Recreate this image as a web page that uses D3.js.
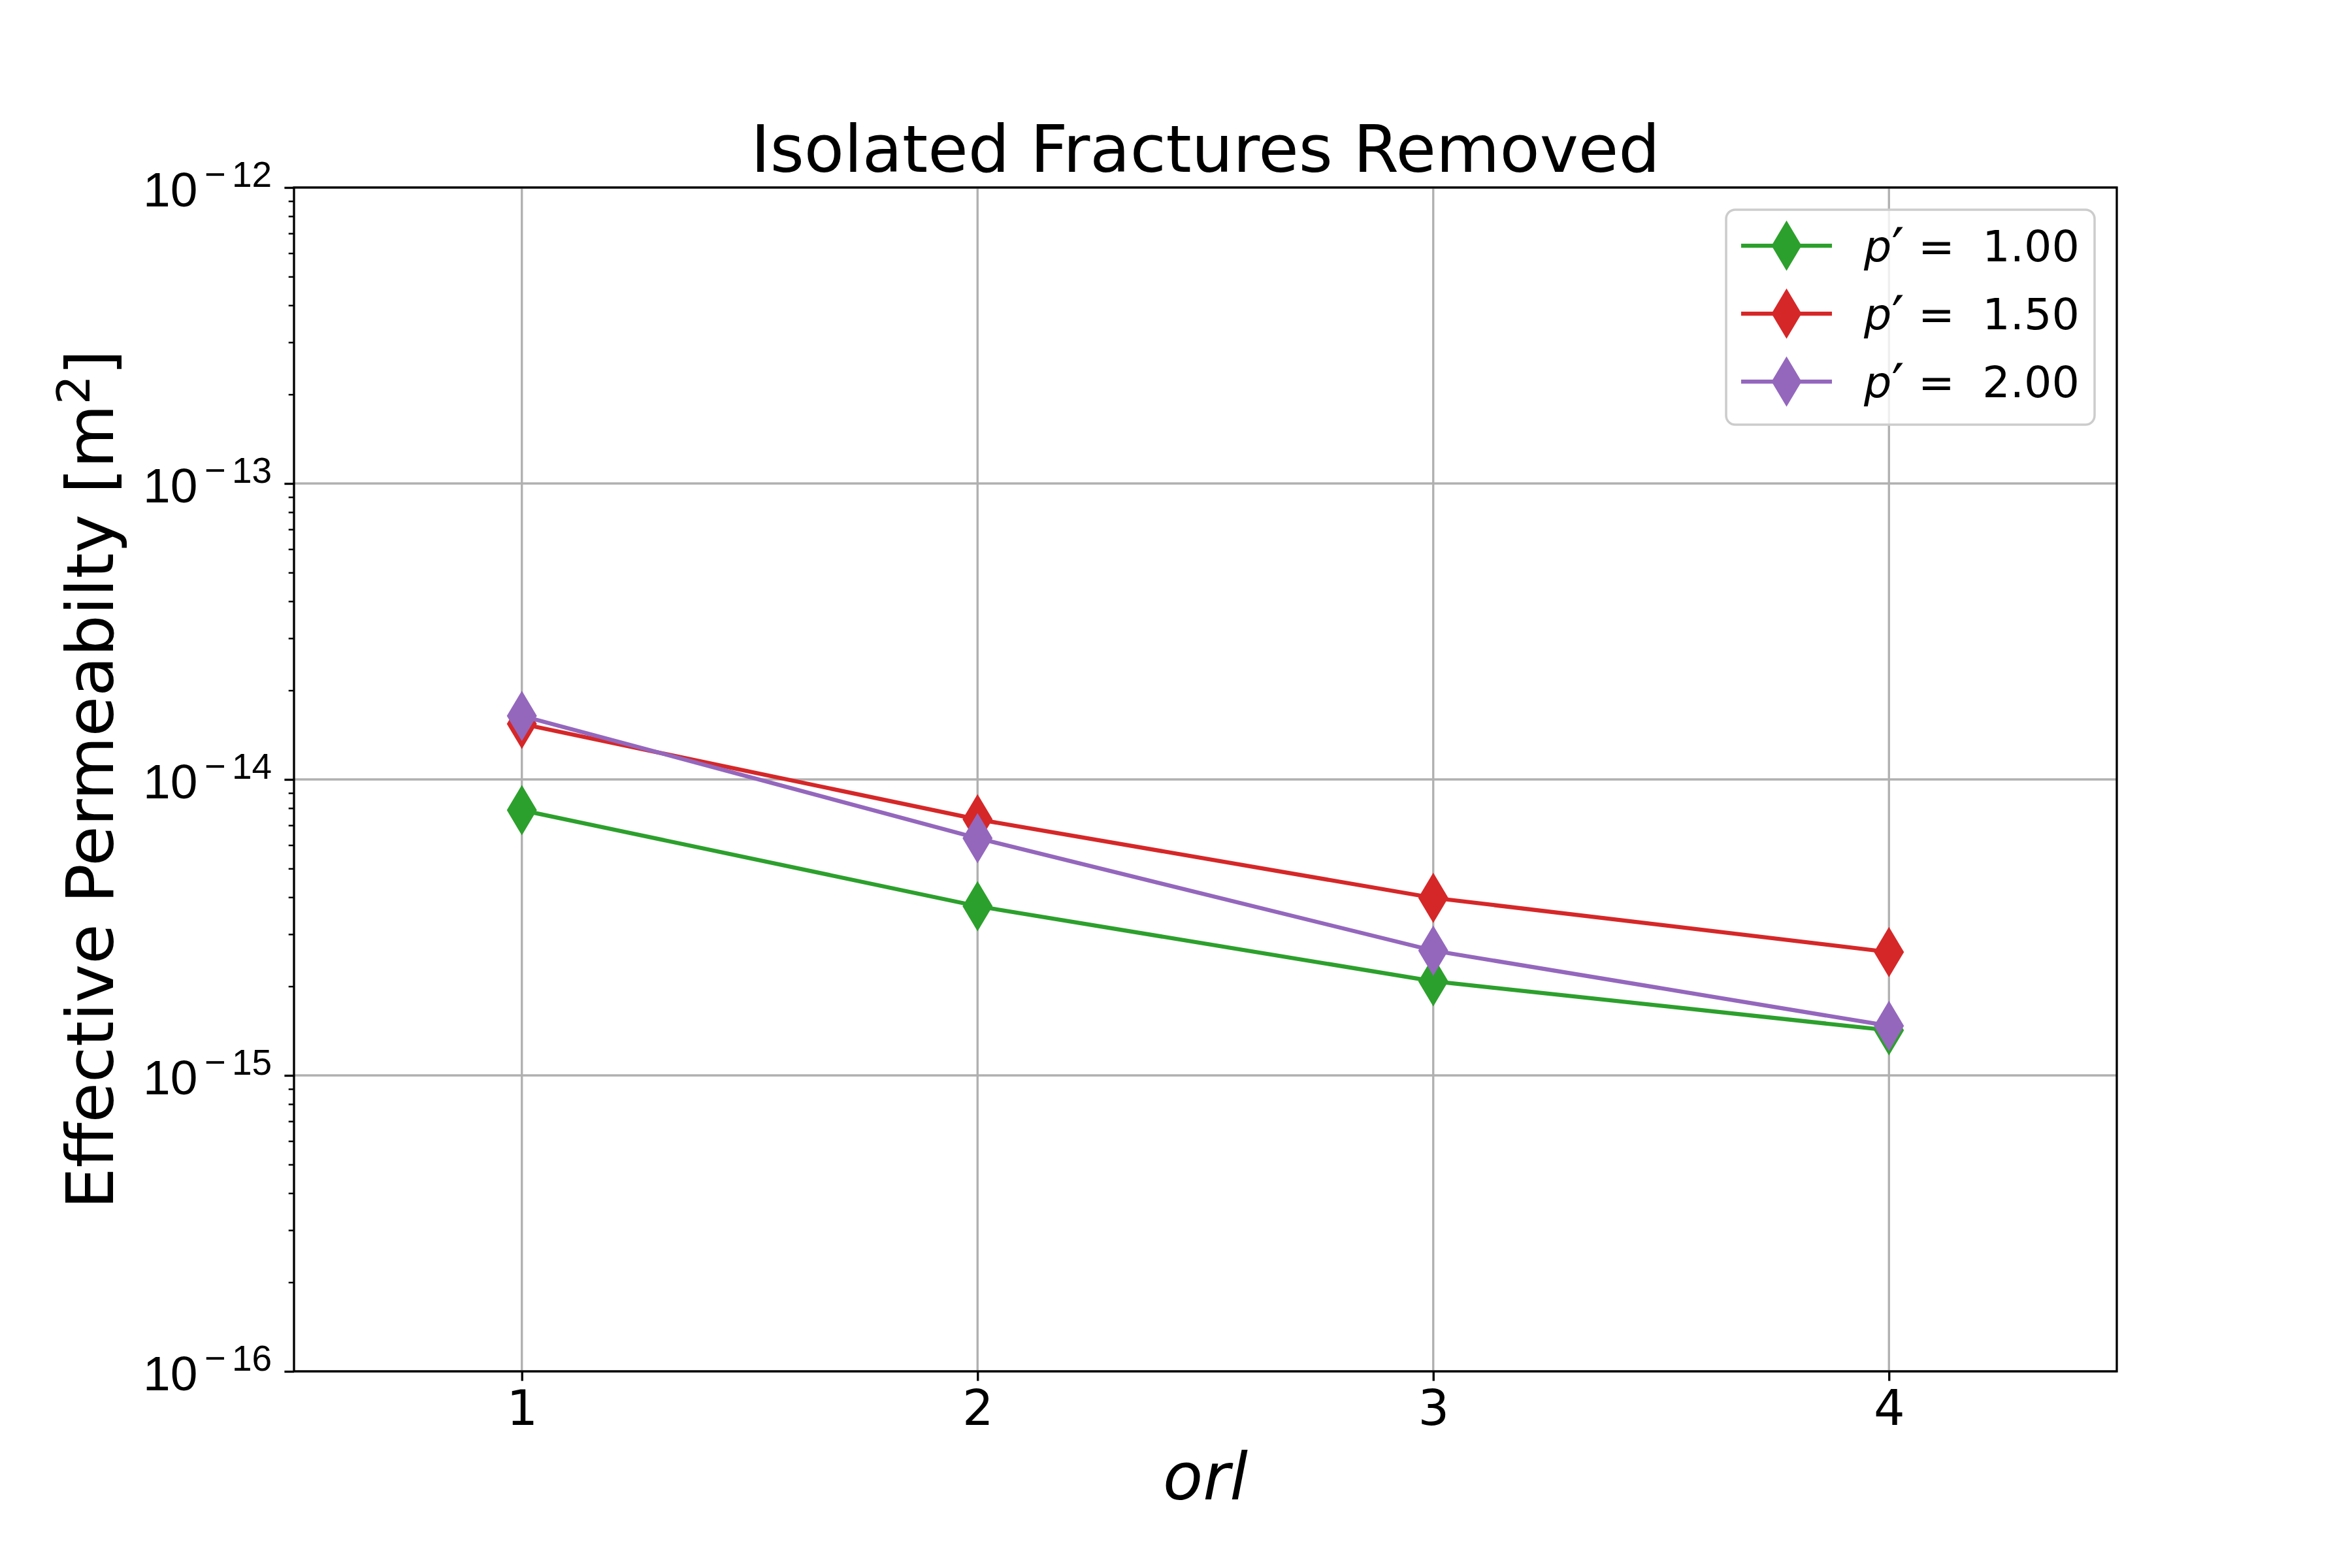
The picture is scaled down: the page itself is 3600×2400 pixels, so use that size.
<!DOCTYPE html>
<html>
<head>
<meta charset="utf-8">
<script src="https://cdn.jsdelivr.net/npm/d3@7"></script>
<style>
  body { margin: 0; background: #fff; }
  svg { display: block; font-family: "DejaVu Sans", sans-serif; }
  .legend-label { white-space: pre; }
</style>
</head>
<body>
<div id="vis"></div>
<script>
const WIDTH = 3600;
const HEIGHT = 2400;

// data
const orlValues = [1, 2, 3, 4];
const seriesLabels = ['1.00', '1.50', '2.00'];
const permP100 = [7.87e-15, 3.73e-15, 2.08e-15, 1.42e-15];
const permP150 = [1.54e-14, 7.33e-15, 3.98e-15, 2.61e-15];
const permP200 = [1.64e-14, 6.33e-15, 2.64e-15, 1.47e-15];
const seriesColors = ['#2ca02c', '#d62728', '#9467bd'];
const yMajorTicks = [1e-16, 1e-15, 1e-14, 1e-13, 1e-12];
const yTickExponents = ['16', '15', '14', '13', '12'];

const series = [permP100, permP150, permP200].map((vals, i) => ({
	label: seriesLabels[i],
	color: seriesColors[i],
	values: vals.map((v, j) => ({ orl: orlValues[j], k: v }))
}));

const PLOT_L = 450, PLOT_R = 3240, PLOT_T = 287, PLOT_B = 2099;
const TICK_FONT = 75;
const GRID = '#b0b0b0';
const LW = 3.33;

let x = d3.scaleLinear().domain([0.5, 4.5]).range([PLOT_L, PLOT_R]);
let y = d3.scaleLog().domain([1e-16, 1e-12]).range([PLOT_B, PLOT_T]);

let svg = d3.select('#vis')
	.append('svg')
	.attr('width', WIDTH)
	.attr('height', HEIGHT);

svg.append('rect')
	.attr('width', WIDTH)
	.attr('height', HEIGHT)
	.attr('fill', '#fff');

// grid
svg.append('g')
	.selectAll('line')
	.data(orlValues)
	.enter()
	.append('line')
	.attr('x1', d => x(d)).attr('x2', d => x(d))
	.attr('y1', PLOT_T).attr('y2', PLOT_B)
	.attr('stroke', GRID)
	.attr('stroke-width', LW);

svg.append('g')
	.selectAll('line')
	.data(yMajorTicks)
	.enter()
	.append('line')
	.attr('x1', PLOT_L).attr('x2', PLOT_R)
	.attr('y1', d => y(d)).attr('y2', d => y(d))
	.attr('stroke', GRID)
	.attr('stroke-width', LW);

// series lines + markers
const line = d3.line()
	.x(d => x(d.orl))
	.y(d => y(d.k));

function diamond(h, w) {
	return `M0,${-h}L${w},0L0,${h}L${-w},0Z`;
}
const MARK = diamond(38.5, 23);

series.forEach(s => {
	let g = svg.append('g');
	g.append('path')
		.datum(s.values)
		.attr('d', line)
		.attr('fill', 'none')
		.attr('stroke', s.color)
		.attr('stroke-width', 6.25)
		.attr('stroke-linejoin', 'round');
	g.selectAll('path.mk')
		.data(s.values)
		.enter()
		.append('path')
		.attr('class', 'mk')
		.attr('d', MARK)
		.attr('transform', d => `translate(${x(d.orl)},${y(d.k)})`)
		.attr('fill', s.color);
});

// axes
let xAxis = d3.axisBottom(x)
	.tickValues(orlValues)
	.tickSize(14.6)
	.tickPadding(14)
	.tickFormat(d3.format('d'));

svg.append('g')
	.attr('class', 'x-axis')
	.attr('transform', `translate(0,${PLOT_B})`)
	.call(xAxis)
	.call(g => g.select('.domain').remove())
	.call(g => g.selectAll('.tick line').attr('stroke', '#000').attr('stroke-width', LW))
	.call(g => g.selectAll('.tick text')
		.attr('fill', '#000')
		.style('font-size', TICK_FONT + 'px')
		.style('font-family', '"DejaVu Sans"'));

let minorTicks = y.ticks().filter(t => !yMajorTicks.some(m => Math.abs(m - t) / t < 1e-6));

svg.append('g')
	.attr('class', 'y-minor')
	.attr('transform', `translate(${PLOT_L},0)`)
	.call(d3.axisLeft(y).tickValues(minorTicks).tickSize(8.3).tickFormat(''))
	.call(g => g.select('.domain').remove())
	.call(g => g.selectAll('.tick line').attr('stroke', '#000').attr('stroke-width', 2.5));

let yAxisG = svg.append('g')
	.attr('class', 'y-axis')
	.attr('transform', `translate(${PLOT_L},0)`)
	.call(d3.axisLeft(y).tickValues(yMajorTicks).tickSize(14.6).tickFormat(''))
	.call(g => g.select('.domain').remove())
	.call(g => g.selectAll('.tick line').attr('stroke', '#000').attr('stroke-width', LW));

// 10^-n labels: mantissa, minus and exponent digits placed separately
yAxisG.selectAll('.tick text').remove();
yAxisG.selectAll('.tick')
	.append('text')
	.attr('y', 28)
	.attr('text-anchor', 'start')
	.attr('fill', '#000')
	.style('font-size', TICK_FONT + 'px')
	.each(function (d, i) {
		let t = d3.select(this);
		t.append('tspan').attr('x', -231).text('10');
		t.append('tspan')
			.attr('x', -137)
			.attr('dy', -30)
			.style('font-size', '56px')
			.text('\u2212');
		t.append('tspan')
			.attr('x', -95)
			.style('font-size', '55px')
			.text(yTickExponents[i]);
	});

// frame
svg.append('rect')
	.attr('x', PLOT_L).attr('y', PLOT_T)
	.attr('width', PLOT_R - PLOT_L).attr('height', PLOT_B - PLOT_T)
	.attr('fill', 'none')
	.attr('stroke', '#000')
	.attr('stroke-width', LW);

// title and axis labels
svg.append('text')
	.attr('x', (PLOT_L + PLOT_R) / 2)
	.attr('y', 263)
	.attr('text-anchor', 'middle')
	.style('font-size', '100px')
	.text('Isolated Fractures Removed');

svg.append('text')
	.attr('x', (PLOT_L + PLOT_R) / 2)
	.attr('y', 2295)
	.attr('text-anchor', 'middle')
	.style('font-size', '100px')
	.style('font-style', 'italic')
	.text('orl');

let ylab = svg.append('text')
	.attr('transform', `translate(173,${(PLOT_T + PLOT_B) / 2}) rotate(-90)`)
	.attr('text-anchor', 'middle')
	.style('font-size', '100px');
ylab.append('tspan').text('Effective Permeabilty [m');
ylab.append('tspan').attr('dy', -36).style('font-size', '70px').text('2');
ylab.append('tspan').attr('dy', 36).text(']');

// legend
const LEG_FONT = 66.7;
const legX = 2642, legY = 321, legW = 564, legH = 329;
const rowH = 104;
let legend = svg.append('g').attr('class', 'legend');

legend.append('rect')
	.attr('x', legX).attr('y', legY)
	.attr('width', legW).attr('height', legH)
	.attr('rx', 14).attr('ry', 14)
	.attr('fill', 'rgba(255,255,255,0.8)')
	.attr('stroke', '#cccccc')
	.attr('stroke-width', 3.5);

let rows = legend.selectAll('g.row')
	.data(series)
	.enter()
	.append('g')
	.attr('class', 'row')
	.attr('transform', (d, i) => `translate(0,${legY + 55 + i * rowH})`);

rows.append('line')
	.attr('x1', legX + 23).attr('x2', legX + 162)
	.attr('stroke', d => d.color)
	.attr('stroke-width', 6.25);

rows.append('path')
	.attr('d', MARK)
	.attr('transform', `translate(${legX + 92.5},0)`)
	.attr('fill', d => d.color);

let lt = rows.append('text')
	.attr('class', 'legend-label')
	.attr('x', legX + 211)
	.attr('y', 24)
	.style('font-size', LEG_FONT + 'px');
lt.append('tspan').style('font-style', 'italic').text('p');
lt.append('tspan').attr('dy', 10).style('font-size', '86px').text('\u2032');
lt.append('tspan').attr('dy', -10).text(' =  ');
lt.append('tspan').text(d => d.label);
</script>
</body>
</html>
